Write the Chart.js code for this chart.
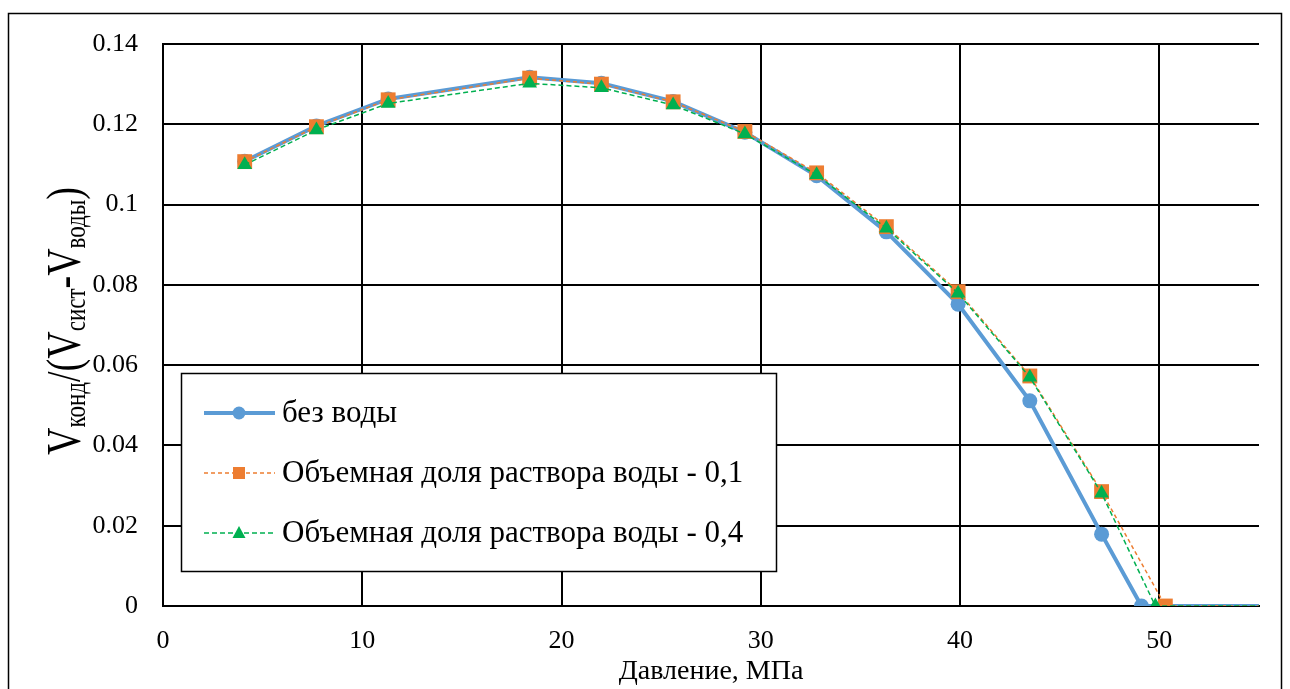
<!DOCTYPE html>
<html>
<head>
<meta charset="utf-8">
<script src="https://cdn.jsdelivr.net/npm/chart.js@4"></script>
<style>
    html, body { margin: 0; padding: 0; background: #fff; }
    #wrap { position: relative; width: 1290px; height: 689px; }
</style>
</head>
<body>
<div id="wrap"><canvas id="myChart" width="1290" height="689"></canvas></div>
<script>
// data
const seriesNames = ['без воды', 'Объемная доля раствора воды - 0,1', 'Объемная доля раствора воды - 0,4'];

const pressureNoWater = [4.1, 7.7, 11.3, 18.4, 22.0, 25.6, 29.2, 32.8, 36.3, 39.9, 43.5, 47.1, 49.1, 58];
const ratioNoWater = [0.1108, 0.1196, 0.1263, 0.1317, 0.1302, 0.1257, 0.1180, 0.1072, 0.0932, 0.0752, 0.0511, 0.0179, 0, 0];

const pressure01 = [4.1, 7.7, 11.3, 18.4, 22.0, 25.6, 29.2, 32.8, 36.3, 39.9, 43.5, 47.1, 50.3, 58];
const ratio01 = [0.1107, 0.1194, 0.1261, 0.1315, 0.1300, 0.1256, 0.1182, 0.1079, 0.0945, 0.0783, 0.0573, 0.0285, 0, 0];

const pressure04 = [4.1, 7.7, 11.3, 18.4, 22.0, 25.6, 29.2, 32.8, 36.3, 39.9, 43.5, 47.1, 49.8, 58];
const ratio04 = [0.1099, 0.1186, 0.1252, 0.1302, 0.1291, 0.1248, 0.1176, 0.1074, 0.0941, 0.0779, 0.0570, 0.0281, 0, 0];

const xTitle = 'Давление, МПа';
const yTitleParts = [['V', false], ['конд', true], ['/(V', false], ['сист', true], ['-V', false], ['воды', true], [')', false]];

const serif = '"Liberation Serif", "Times New Roman", serif';

function toPoints(xs, ys) {
    return xs.map((x, i) => ({ x: x, y: ys[i] }));
}

// outer frame, rotated y title, legend box
const extras = {
    id: 'extras',
    beforeDraw(chart) {
        const ctx = chart.ctx;
        ctx.save();
        ctx.fillStyle = '#fff';
        ctx.fillRect(0, 0, chart.width, chart.height);
        ctx.strokeStyle = '#000';
        ctx.lineWidth = 1.5;
        ctx.strokeRect(8.5, 13.5, 1273, 700);
        ctx.restore();
    },
    afterDraw(chart) {
        const ctx = chart.ctx;

        // y title
        ctx.save();
        const bigFont = '38px ' + serif;
        const smallFont = '23px ' + serif;
        let total = 0;
        for (const [t, sub] of yTitleParts) {
            ctx.font = sub ? smallFont : bigFont;
            total += ctx.measureText(t).width;
        }
        ctx.translate(80, 321);
        ctx.rotate(-Math.PI / 2);
        ctx.scale(1, 1.3);
        ctx.fillStyle = '#000';
        ctx.textBaseline = 'alphabetic';
        let x = -total / 2;
        for (const [t, sub] of yTitleParts) {
            ctx.font = sub ? smallFont : bigFont;
            ctx.fillText(t, x, sub ? 4 : 0);
            x += ctx.measureText(t).width;
        }
        ctx.restore();

        // legend
        ctx.save();
        ctx.fillStyle = '#fff';
        ctx.fillRect(181, 373, 596, 199);
        ctx.strokeStyle = '#000';
        ctx.lineWidth = 1.5;
        ctx.strokeRect(181.5, 373.5, 595, 198);
        chart.data.datasets.forEach((ds, i) => {
            const y = 413 + i * 60;
            ctx.beginPath();
            ctx.setLineDash(ds.borderDash || []);
            ctx.lineWidth = ds.borderWidth;
            ctx.strokeStyle = ds.borderColor;
            ctx.moveTo(204, y);
            ctx.lineTo(275, y);
            ctx.stroke();
            ctx.setLineDash([]);
            ctx.fillStyle = ds.pointBackgroundColor;
            ctx.beginPath();
            if (ds.pointStyle === 'circle') {
                ctx.arc(239, y, 6.5, 0, Math.PI * 2);
            } else if (ds.pointStyle === 'rect') {
                ctx.rect(233, y - 6, 12, 12);
            } else {
                ctx.moveTo(239, y - 7);
                ctx.lineTo(245.5, y + 5);
                ctx.lineTo(232.5, y + 5);
                ctx.closePath();
            }
            ctx.fill();
            ctx.fillStyle = '#000';
            ctx.font = '31px ' + serif;
            ctx.textBaseline = 'middle';
            ctx.fillText(seriesNames[i], 282, y + 1);
        });
        ctx.restore();
    }
};

const ctx = document.getElementById('myChart').getContext('2d');
const chart = new Chart(ctx, {
    type: 'line',
    data: {
        datasets: [{
            label: seriesNames[0],
            data: toPoints(pressureNoWater, ratioNoWater),
            borderColor: '#5B9BD5',
            backgroundColor: '#5B9BD5',
            borderWidth: 4,
            pointStyle: 'circle',
            pointRadius: 7.5,
            pointBorderWidth: 0,
            pointBackgroundColor: '#5B9BD5',
            order: 2
        }, {
            label: seriesNames[1],
            data: toPoints(pressure01, ratio01),
            borderColor: '#ED7D31',
            backgroundColor: '#ED7D31',
            borderWidth: 1.5,
            borderDash: [4, 3],
            pointStyle: 'rect',
            pointRadius: 10.5,
            pointBorderWidth: 0,
            pointBackgroundColor: '#ED7D31',
            order: 1
        }, {
            label: seriesNames[2],
            data: toPoints(pressure04, ratio04),
            borderColor: '#00B050',
            backgroundColor: '#00B050',
            borderWidth: 1.5,
            borderDash: [5, 3],
            pointStyle: 'triangle',
            pointRadius: 8.5,
            pointBorderWidth: 0,
            pointBackgroundColor: '#00B050',
            order: 0
        }]
    },
    options: {
        responsive: false,
        animation: false,
        devicePixelRatio: 1,
        layout: { padding: { top: 44, right: 31, left: 0, bottom: 0 } },
        plugins: {
            legend: { display: false },
            tooltip: { enabled: false }
        },
        scales: {
            x: {
                type: 'linear',
                min: 0,
                max: 55,
                afterFit: (scale) => { scale.height = 83; },
                ticks: {
                    stepSize: 10,
                    includeBounds: false,
                    maxRotation: 0,
                    padding: 20,
                    color: '#000',
                    font: { family: serif, size: 26 }
                },
                grid: { color: '#000', lineWidth: 2, drawTicks: false },
                border: { color: '#000', width: 2 },
                title: {
                    display: true,
                    text: xTitle,
                    color: '#000',
                    font: { family: serif, size: 28 },
                    padding: { top: 0, bottom: 1 }
                }
            },
            y: {
                min: 0,
                max: 0.14,
                afterFit: (scale) => { scale.width = 163; },
                ticks: {
                    stepSize: 0.02,
                    padding: 25,
                    color: '#000',
                    font: { family: serif, size: 26 },
                    callback: (v) => String(+v.toFixed(2))
                },
                grid: { color: '#000', lineWidth: 2, drawTicks: false },
                border: { color: '#000', width: 2 }
            }
        }
    },
    plugins: [extras]
});
</script>
</body>
</html>
